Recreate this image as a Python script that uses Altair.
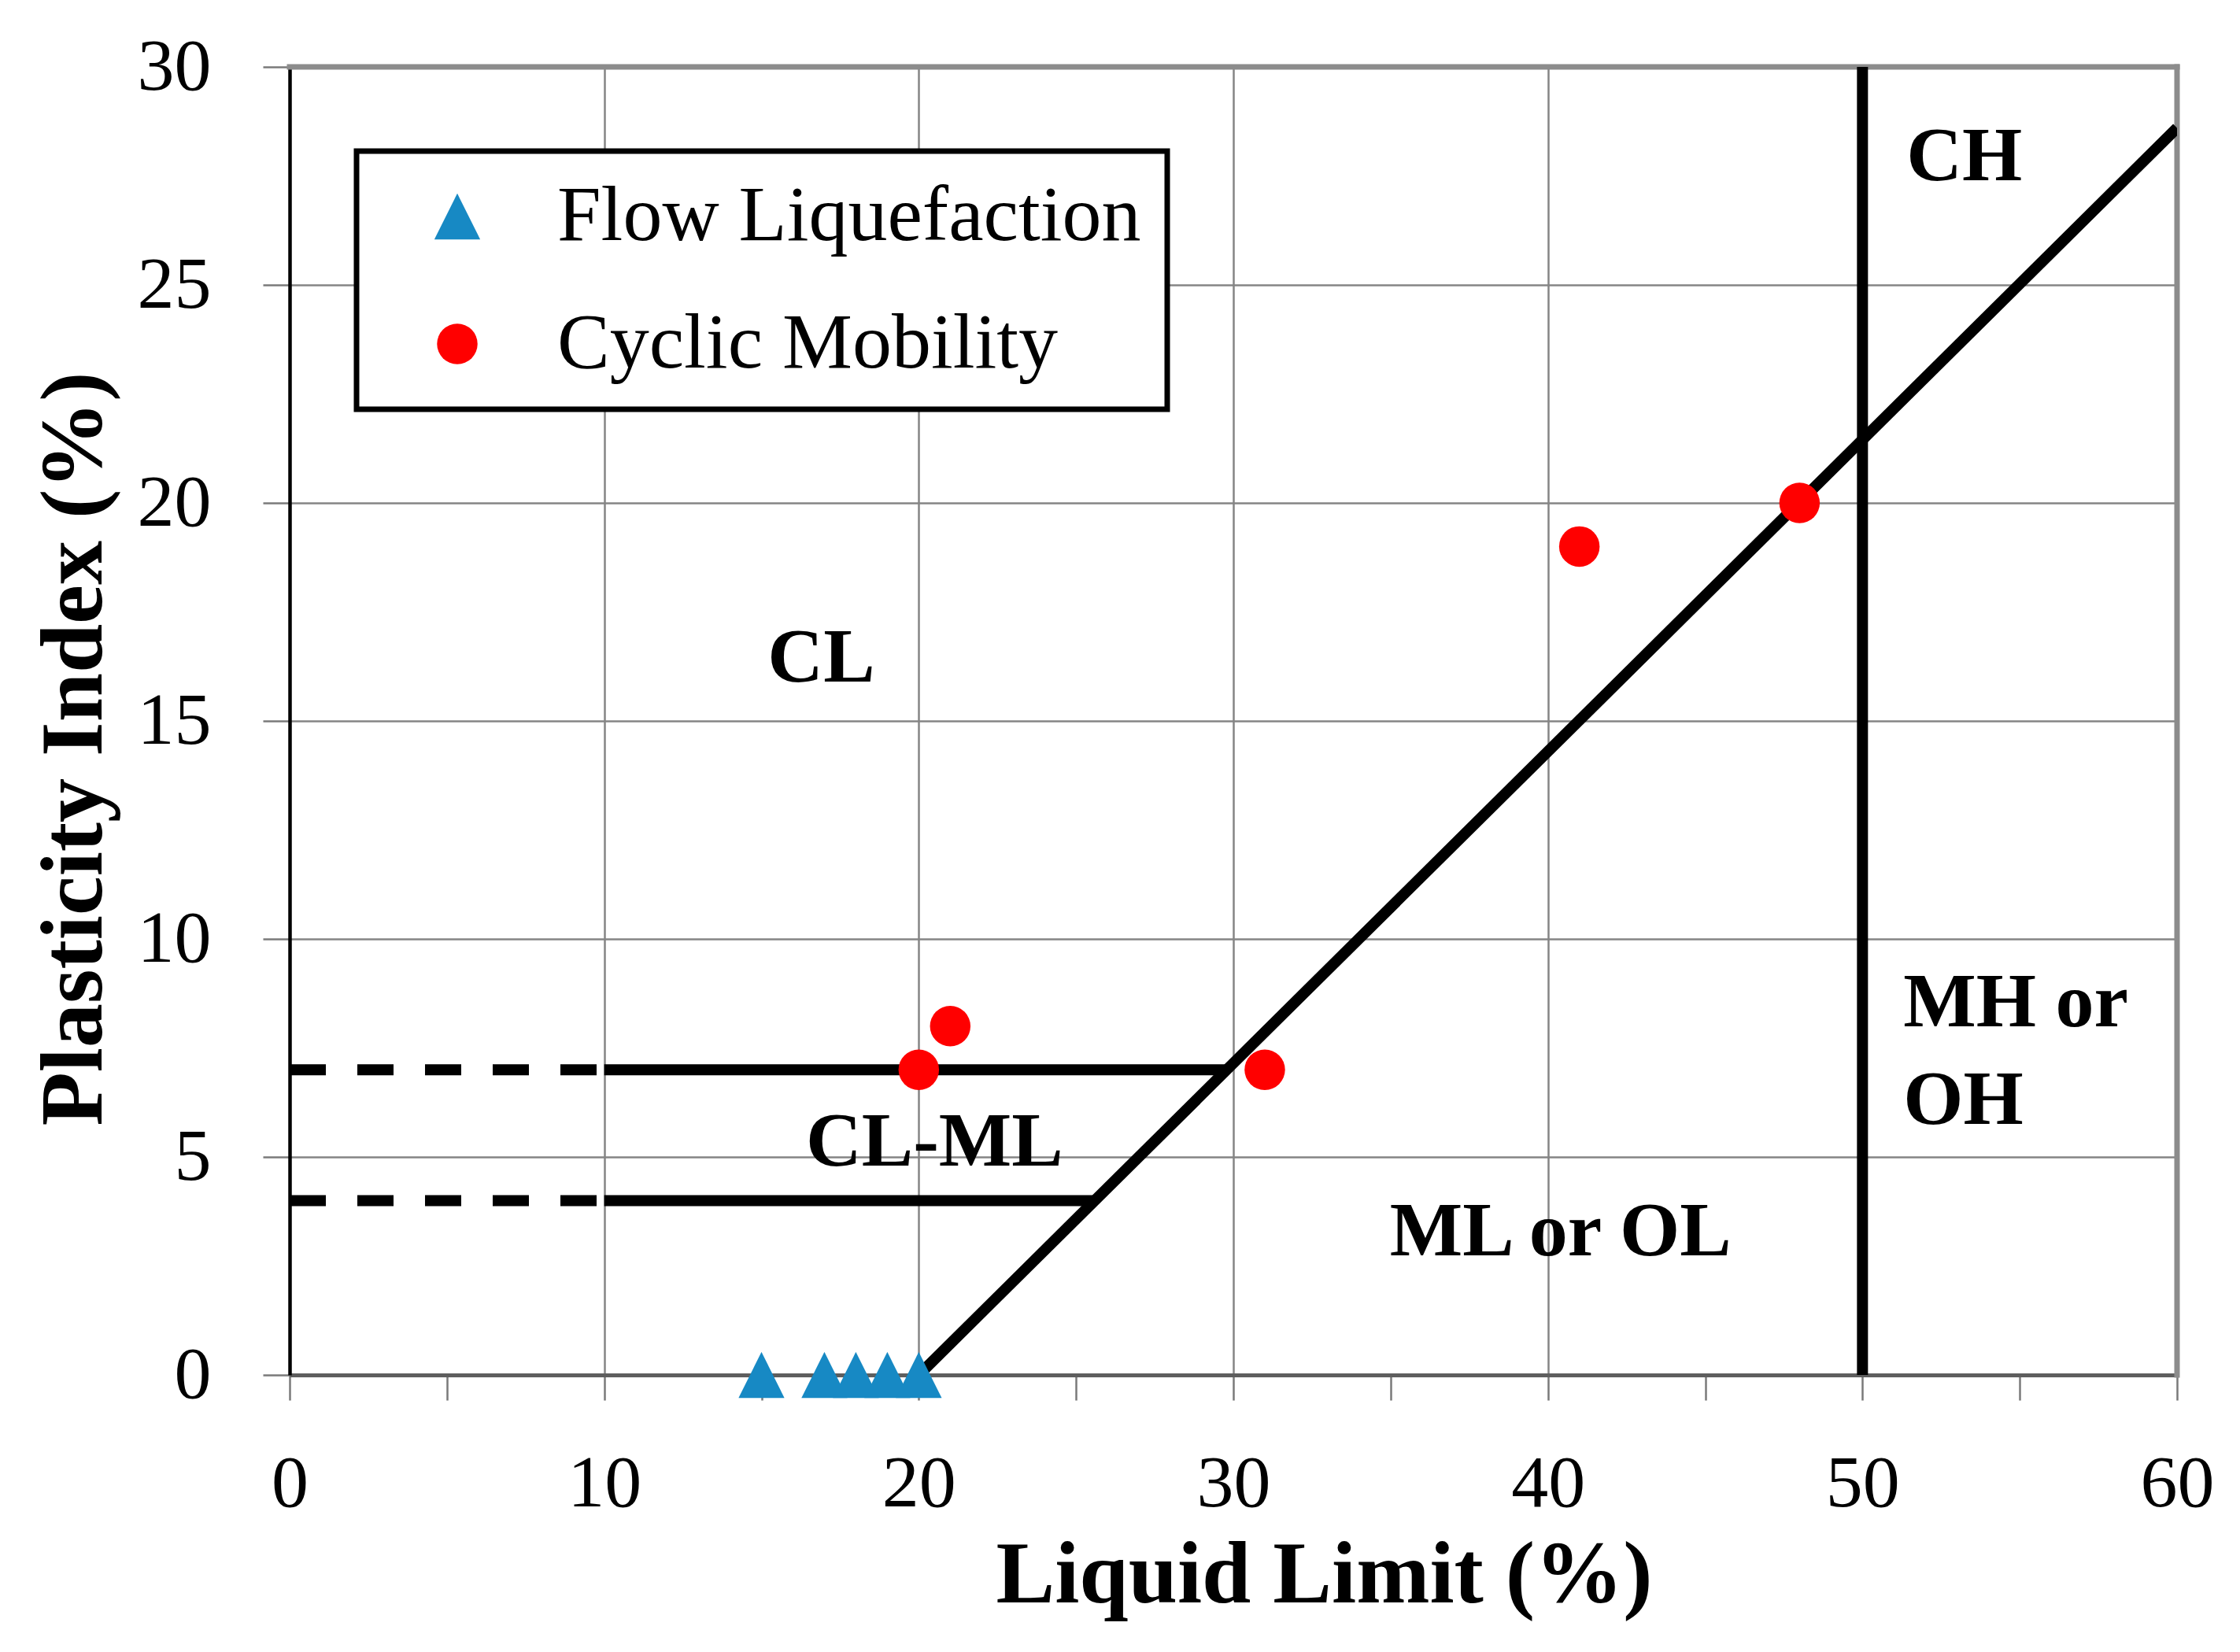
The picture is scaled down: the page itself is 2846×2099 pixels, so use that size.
import altair as alt
import pandas as pd

# ---- data ----
flow_ll = [15, 17, 18, 19, 20]
flow_pi = [0, 0, 0, 0, 0]
cyc_ll = [20, 21, 31, 41, 48]
cyc_pi = [7, 8, 7, 19, 20]
series_names = ["Flow Liquefaction", "Cyclic Mobility"]

# chart boundary lines (A-line, LL=50 line, CL-ML band limits)
solid_x1 = [20, 50, 10, 10]
solid_y1 = [0, 0, 7, 4]
solid_x2 = [60, 50, 29.8, 25.6]
solid_y2 = [28.6, 30, 7, 4]
dash_x1 = [0, 0]
dash_y1 = [7, 4]
dash_x2 = [10, 10]
dash_y2 = [7, 4]
# plot frame (top and right)
frame_x1 = [0, 60]
frame_y1 = [30, 0]
frame_x2 = [60, 60]
frame_y2 = [30, 30]

center_labels = ["CL", "CL-ML", "ML or OL"]
center_x = [16.9, 20.5, 40.4]
center_y = [15.9, 4.8, 2.75]
left_labels = ["CH", "MH or", "OH"]
left_x = [51.4, 51.3, 51.3]
left_y = [27.4, 8.0, 5.75]

x_ticks = list(range(0, 61, 5))
y_ticks = list(range(0, 31, 5))

BLUE = "#1789c4"
RED = "#ff0000"
TRI = "M0,-1L1,1L-1,1Z"
FONT = "Liberation Serif"

pts = pd.DataFrame({
    "LL": flow_ll + cyc_ll,
    "PI": flow_pi + cyc_pi,
    "Series": [series_names[0]] * len(flow_ll) + [series_names[1]] * len(cyc_ll),
})
solid = pd.DataFrame({"x": solid_x1, "y": solid_y1, "x2": solid_x2, "y2": solid_y2})
dashed = pd.DataFrame({"x": dash_x1, "y": dash_y1, "x2": dash_x2, "y2": dash_y2})
frame = pd.DataFrame({"x": frame_x1, "y": frame_y1, "x2": frame_x2, "y2": frame_y2})
ctext = pd.DataFrame({"t": center_labels, "x": center_x, "y": center_y})
ltext = pd.DataFrame({"t": left_labels, "x": left_x, "y": left_y})

xscale = alt.Scale(domain=[0, 60], nice=False, zero=False)
yscale = alt.Scale(domain=[0, 30], nice=False, zero=False)

xaxis = alt.Axis(
    values=x_ticks,
    labelExpr="datum.value % 10 === 0 ? datum.label : ''",
    title="Liquid Limit (%)",
    titleFont=FONT, titleFontSize=112, titleFontWeight="bold", titleColor="black",
    titleX=1314, titleY=288, titleBaseline="alphabetic", titleAlign="center",
    labelFont=FONT, labelFontSize=94, labelColor="black", labelPadding=60,
    labelFlush=False, labelOverlap=False,
    tickSize=32, tickColor="#7a7a7a", tickWidth=2.5,
    domainColor="#5e5e5e", domainWidth=5,
    grid=True, gridColor="#858585", gridWidth=2.5,
    gridOpacity={"condition": {"test": "datum.value % 10 !== 0", "value": 0}, "value": 1},
)
yaxis = alt.Axis(
    values=y_ticks,
    title="Plasticity Index (%)",
    titleFont=FONT, titleFontSize=112, titleFontWeight="bold", titleColor="black",
    titleX=-240, titleY=866, titleBaseline="alphabetic", titleAlign="center", titleAngle=-90,
    labelFont=FONT, labelFontSize=94, labelColor="black", labelPadding=66,
    labelFlush=False, labelOverlap=False,
    tickSize=34, tickColor="#7a7a7a", tickWidth=2.5,
    domainColor="black", domainWidth=4.5,
    grid=True, gridColor="#858585", gridWidth=2.5,
)


def X(f):
    return alt.X(f, type="quantitative", scale=xscale, axis=xaxis)


def Y(f):
    return alt.Y(f, type="quantitative", scale=yscale, axis=yaxis)


frame_layer = alt.Chart(frame).mark_rule(color="#8c8c8c", strokeWidth=7, strokeCap="square").encode(
    x=X("x"), y=Y("y"), x2="x2", y2="y2")

solid_layer = alt.Chart(solid).mark_rule(color="black", strokeWidth=14, strokeCap="butt", clip=True).encode(
    x=X("x"), y=Y("y"), x2="x2", y2="y2")

dash_layer = alt.Chart(dashed).mark_rule(color="black", strokeWidth=14, strokeCap="butt",
                                         strokeDash=[46, 40]).encode(
    x=X("x"), y=Y("y"), x2="x2", y2="y2")

ctext_layer = alt.Chart(ctext).mark_text(font=FONT, fontSize=98, fontWeight="bold", color="black",
                                         align="center", baseline="alphabetic").encode(
    x=X("x"), y=Y("y"), text="t")

ltext_layer = alt.Chart(ltext).mark_text(font=FONT, fontSize=98, fontWeight="bold", color="black",
                                         align="left", baseline="alphabetic").encode(
    x=X("x"), y=Y("y"), text="t")

legend = alt.Legend(
    title=None, orient="none", legendX=85, legendY=107,
    direction="vertical",
    labelFont=FONT, labelFontSize=100, labelColor="black", labelLimit=3000,
    symbolSize=3100, symbolStrokeWidth=0, symbolOffset=45, labelOffset=77,
    padding=33,
    strokeColor="black", fillColor="white", cornerRadius=0,
)

pts_layer = alt.Chart(pts).mark_point(filled=True, opacity=1).encode(
    x=X("LL"), y=Y("PI"),
    color=alt.Color("Series:N", scale=alt.Scale(domain=series_names, range=[BLUE, RED]), legend=legend),
    shape=alt.Shape("Series:N", scale=alt.Scale(domain=series_names, range=[TRI, "circle"]), legend=legend),
    size=alt.Size("Series:N", scale=alt.Scale(domain=series_names, range=[3400, 2650]), legend=None),
)

chart = alt.layer(
    frame_layer, solid_layer, dash_layer, ctext_layer, ltext_layer, pts_layer
).properties(
    width=2398, height=1662,
    padding={"left": 360, "top": 77, "right": 70, "bottom": 340},
    autosize=alt.AutoSizeParams(type="none"),
    background="white",
).configure_view(stroke=None).configure(font=FONT).configure_legend(rowPadding=62, strokeWidth=7)

chart.save("out.html", embed_options={"renderer": "svg", "actions": False})
